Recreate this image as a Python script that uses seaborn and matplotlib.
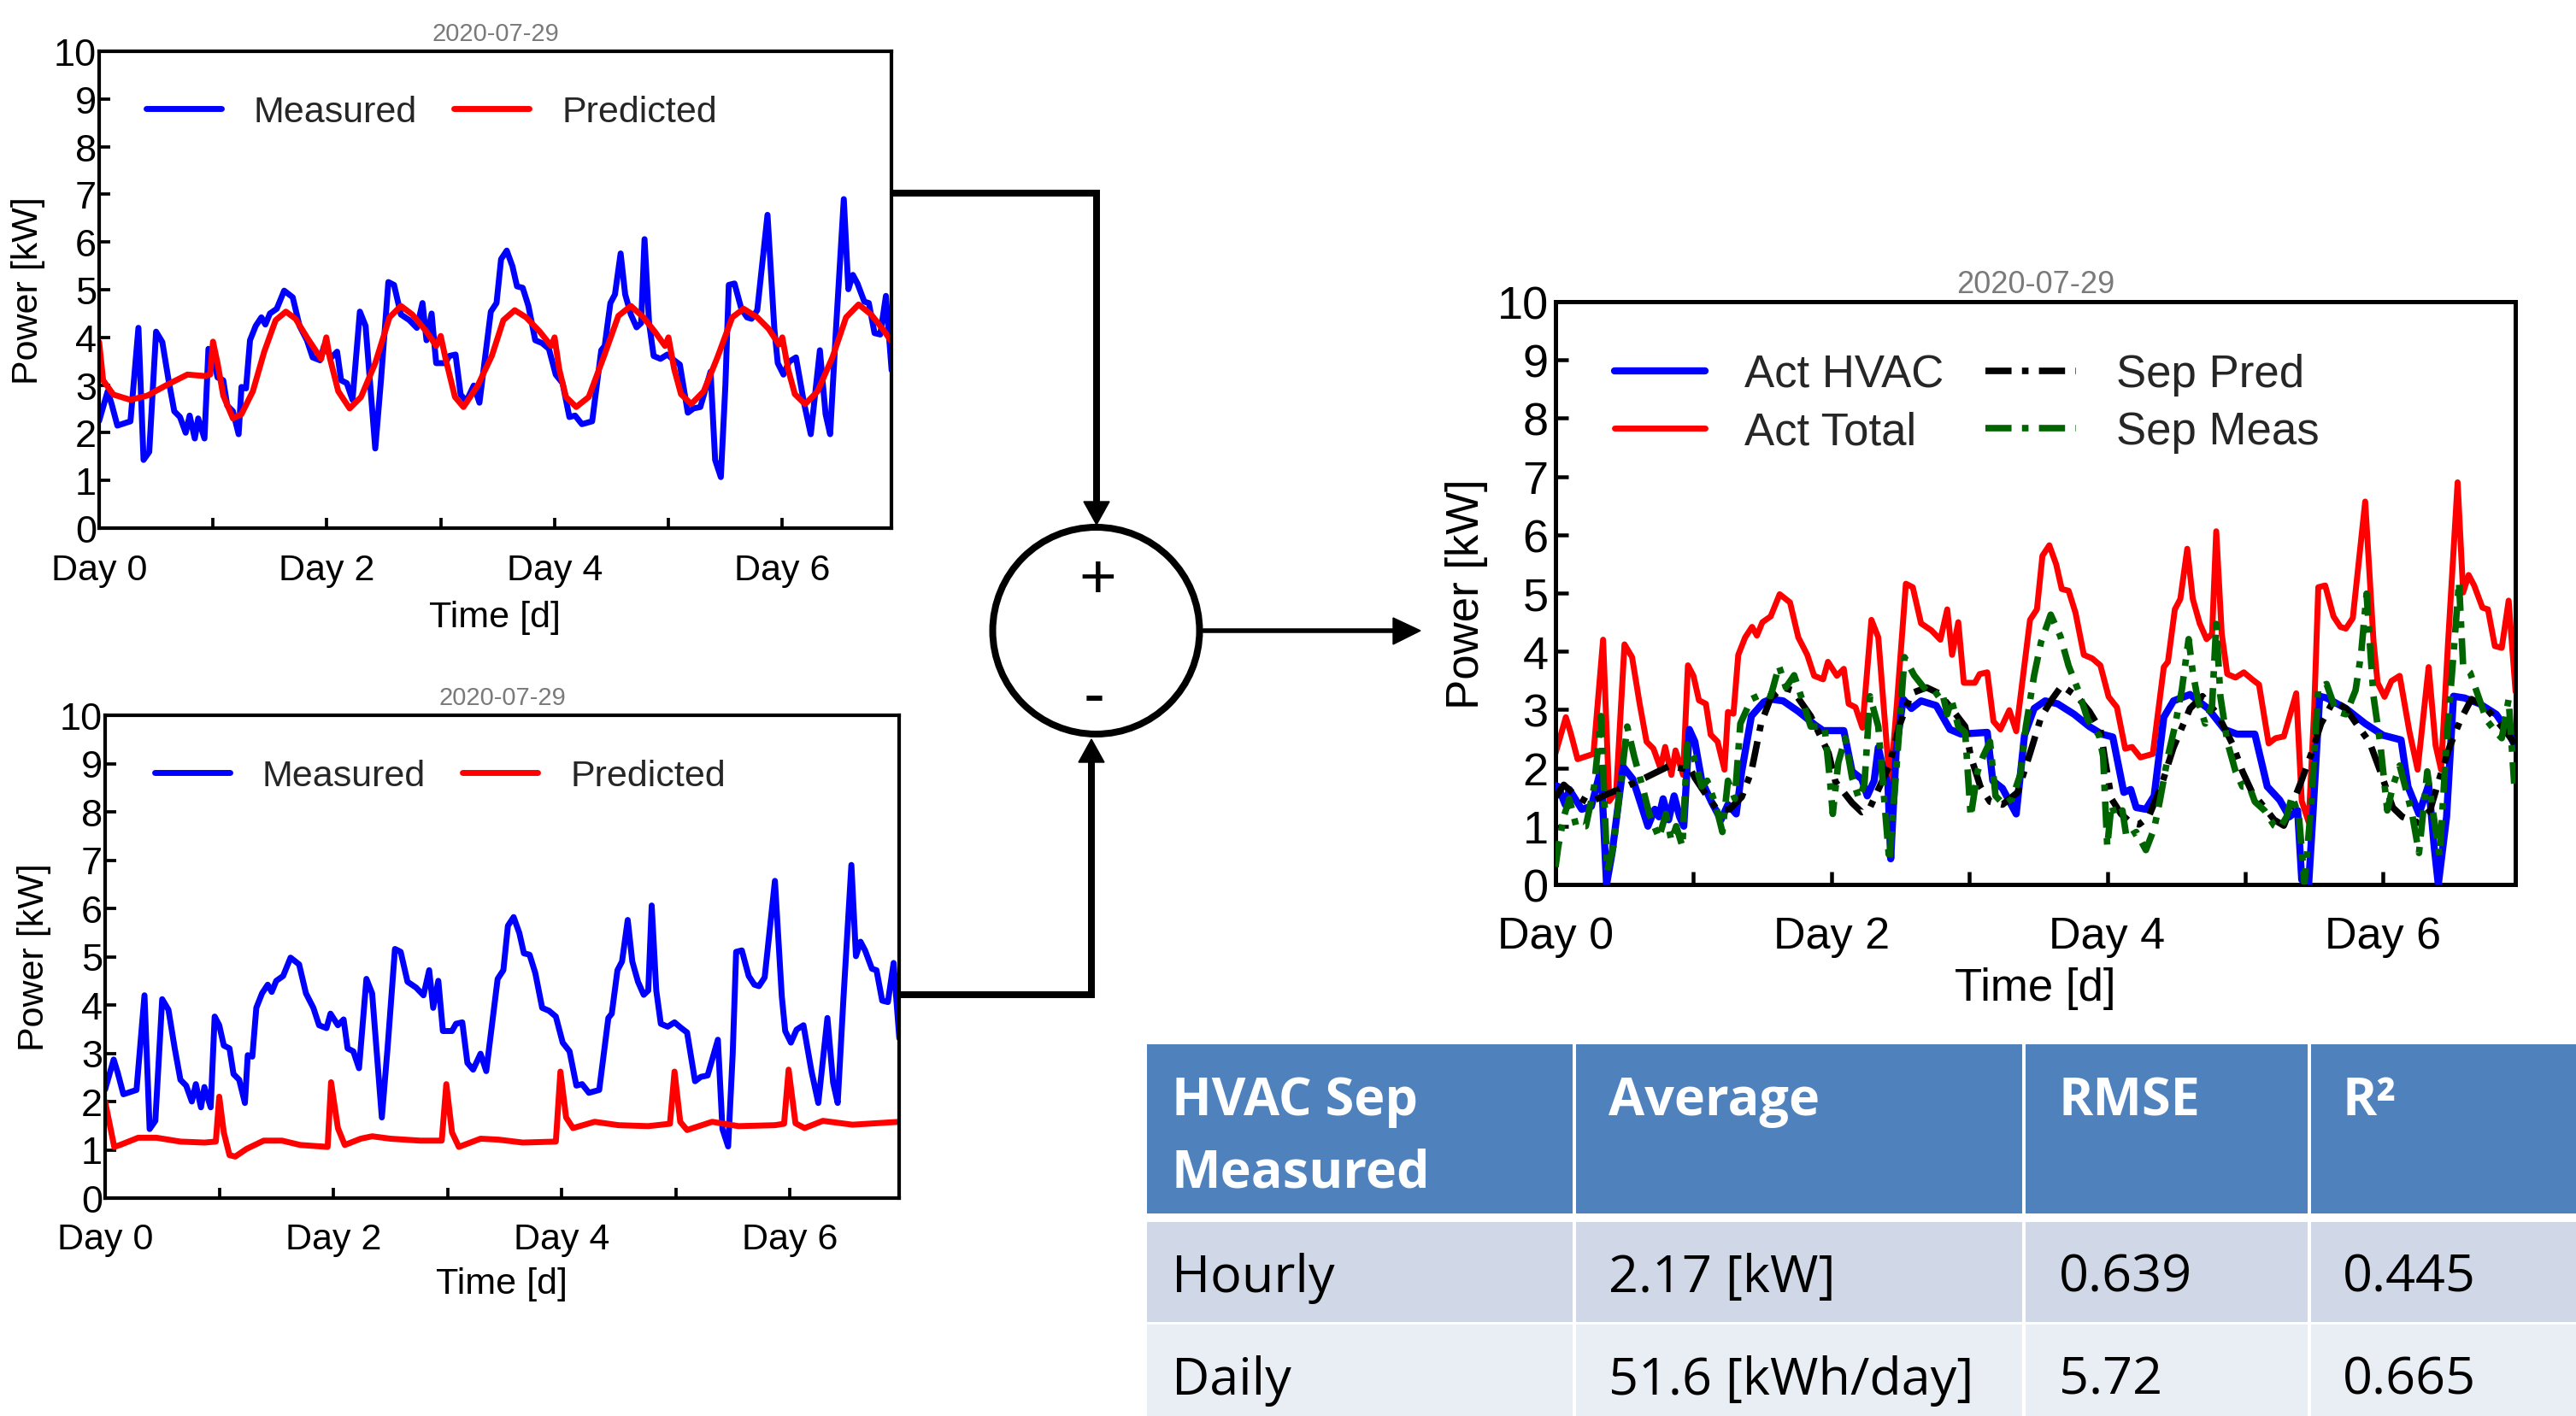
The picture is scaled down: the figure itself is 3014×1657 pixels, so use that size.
import numpy as np
import pandas as pd
import matplotlib
matplotlib.use("Agg")
import matplotlib.pyplot as plt
import seaborn as sns
from matplotlib.patches import Circle, Rectangle, Polygon

# ---------------- data ----------------
total_day = [0.0, 0.075, 0.11, 0.16, 0.225, 0.275, 0.345, 0.39, 0.44, 0.5,
             0.555, 0.61, 0.66, 0.71, 0.76, 0.795, 0.84, 0.87, 0.925, 0.96,
             1.0, 1.04, 1.09, 1.125, 1.175, 1.225, 1.25, 1.29, 1.325, 1.375,
             1.425, 1.46, 1.5, 1.56, 1.625, 1.7, 1.76, 1.825, 1.875, 1.94,
             1.975, 2.04, 2.09, 2.125, 2.175, 2.225, 2.29, 2.34, 2.425, 2.475,
             2.54, 2.59, 2.65, 2.725, 2.79, 2.84, 2.875, 2.92, 2.96, 3.04,
             3.075, 3.13, 3.175, 3.225, 3.29, 3.34, 3.44, 3.49, 3.53, 3.58,
             3.63, 3.67, 3.72, 3.77, 3.83, 3.89, 3.95, 4.01, 4.07, 4.13,
             4.18, 4.24, 4.33, 4.41, 4.44, 4.49, 4.53, 4.58, 4.62, 4.67,
             4.72, 4.76, 4.79, 4.83, 4.87, 4.93, 4.99, 5.05, 5.1, 5.17,
             5.22, 5.28, 5.37, 5.41, 5.46, 5.5, 5.53, 5.58, 5.64, 5.69,
             5.73, 5.78, 5.87, 5.93, 5.96, 6.01, 6.06, 6.12, 6.19, 6.25,
             6.33, 6.38, 6.42, 6.47, 6.54, 6.58, 6.62, 6.66, 6.72, 6.76,
             6.81, 6.86, 6.91, 6.96]
total_kw = [2.25, 2.87, 2.6, 2.15, 2.2, 2.24, 4.2, 1.43, 1.6, 4.12,
            3.9, 3.1, 2.45, 2.33, 2.0, 2.36, 1.88, 2.3, 1.88, 3.76,
            3.58, 3.16, 3.1, 2.57, 2.45, 1.97, 2.96, 2.93, 3.94, 4.24,
            4.42, 4.27, 4.5, 4.6, 4.98, 4.84, 4.24, 3.94, 3.58, 3.52,
            3.82, 3.58, 3.7, 3.1, 3.04, 2.69, 4.54, 4.24, 1.67, 3.1,
            5.16, 5.1, 4.48, 4.36, 4.2, 4.72, 3.94, 4.5, 3.46, 3.46,
            3.61, 3.64, 2.8, 2.66, 2.99, 2.63, 4.54, 4.72, 5.64, 5.82,
            5.49, 5.07, 5.04, 4.66, 3.94, 3.88, 3.76, 3.22, 3.04, 2.33,
            2.36, 2.18, 2.24, 3.73, 3.82, 4.72, 4.9, 5.76, 4.9, 4.48,
            4.21, 4.3, 6.06, 4.3, 3.61, 3.55, 3.64, 3.52, 3.43, 2.42,
            2.51, 2.54, 3.28, 1.43, 1.07, 2.99, 5.1, 5.13, 4.6, 4.42,
            4.39, 4.57, 6.57, 4.18, 3.46, 3.22, 3.49, 3.58, 2.63, 1.97,
            3.73, 2.39, 1.97, 4.12, 6.9, 5.01, 5.31, 5.13, 4.75, 4.72,
            4.09, 4.06, 4.87, 3.31]

pred_day = [0.0, 0.035, 0.125, 0.275, 0.425, 0.6, 0.775, 0.925, 0.975, 1.0,
            1.04, 1.09, 1.175, 1.25, 1.35, 1.45, 1.55, 1.64, 1.725, 1.825,
            1.95, 1.995, 2.025, 2.1, 2.2, 2.3, 2.425, 2.55, 2.65, 2.75,
            2.875, 2.96, 3.0, 3.04, 3.125, 3.2, 3.325, 3.45, 3.55, 3.65,
            3.75, 3.87, 3.97, 4.0, 4.04, 4.1, 4.19, 4.3, 4.43, 4.56,
            4.67, 4.78, 4.88, 4.97, 5.0, 5.05, 5.11, 5.2, 5.31, 5.43,
            5.56, 5.66, 5.78, 5.88, 5.97, 6.0, 6.05, 6.11, 6.2, 6.31,
            6.44, 6.56, 6.67, 6.78, 6.88, 6.96]
pred_kw = [3.9, 3.1, 2.8, 2.69, 2.78, 3.01, 3.22, 3.19, 3.22, 3.91,
           3.46, 2.78, 2.3, 2.39, 2.87, 3.7, 4.36, 4.54, 4.39, 4.0,
           3.55, 4.0, 3.58, 2.87, 2.51, 2.75, 3.46, 4.42, 4.66, 4.48,
           4.12, 3.82, 4.03, 3.58, 2.75, 2.54, 2.99, 3.62, 4.36, 4.57,
           4.42, 4.12, 3.82, 4.0, 3.34, 2.75, 2.54, 2.75, 3.58, 4.45,
           4.66, 4.42, 4.12, 3.82, 4.0, 3.34, 2.81, 2.6, 2.87, 3.58,
           4.42, 4.6, 4.42, 4.18, 3.85, 4.0, 3.34, 2.81, 2.6, 2.87,
           3.58, 4.42, 4.69, 4.48, 4.18, 3.91]

base_day = [0.0, 0.08, 0.13, 0.29, 0.45, 0.66, 0.87, 0.97, 1.0, 1.04,
            1.09, 1.14, 1.24, 1.39, 1.55, 1.71, 1.95, 1.98, 2.04, 2.1,
            2.24, 2.34, 2.5, 2.76, 2.95, 2.99, 3.04, 3.1, 3.29, 3.45,
            3.66, 3.95, 3.99, 4.04, 4.1, 4.29, 4.5, 4.76, 4.95, 4.99,
            5.04, 5.1, 5.32, 5.55, 5.87, 5.95, 5.99, 6.05, 6.13, 6.29,
            6.55, 6.96]
base_kw = [2.0, 1.06, 1.1, 1.25, 1.25, 1.17, 1.15, 1.17, 2.1, 1.36,
           0.89, 0.86, 1.02, 1.19, 1.19, 1.1, 1.06, 2.4, 1.45, 1.1,
           1.23, 1.28, 1.23, 1.19, 1.19, 2.36, 1.36, 1.06, 1.23, 1.21,
           1.15, 1.17, 2.62, 1.67, 1.45, 1.58, 1.51, 1.49, 1.54, 2.62,
           1.58, 1.41, 1.58, 1.49, 1.51, 1.54, 2.66, 1.55, 1.45, 1.6,
           1.52, 1.58]

hvac_day = [0.0, 0.02, 0.07, 0.1, 0.19, 0.26, 0.33, 0.37, 0.41, 0.49,
            0.56, 0.62, 0.67, 0.72, 0.75, 0.78, 0.82, 0.86, 0.9, 0.93,
            0.97, 1.01, 1.06, 1.13, 1.2, 1.25, 1.31, 1.35, 1.42, 1.51,
            1.56, 1.65, 1.76, 1.88, 1.94, 2.09, 2.15, 2.22, 2.26, 2.31,
            2.34, 2.38, 2.41, 2.43, 2.47, 2.52, 2.58, 2.65, 2.76, 2.86,
            2.94, 3.13, 3.17, 3.24, 3.34, 3.4, 3.47, 3.55, 3.64, 3.76,
            3.87, 3.96, 4.04, 4.12, 4.17, 4.21, 4.28, 4.34, 4.41, 4.48,
            4.6, 4.73, 4.85, 4.94, 5.07, 5.16, 5.25, 5.32, 5.38, 5.41,
            5.46, 5.49, 5.54, 5.59, 5.73, 5.87, 6.0, 6.13, 6.18, 6.26,
            6.33, 6.37, 6.4, 6.46, 6.51, 6.59, 6.7, 6.82, 6.91, 6.96]
hvac_kw = [1.7, 1.68, 1.37, 1.63, 1.29, 1.34, 1.99, 0.0, 0.54, 2.02,
           1.81, 1.37, 1.0, 1.29, 1.16, 1.47, 1.11, 1.52, 1.16, 1.0,
           2.66, 2.45, 1.78, 1.42, 1.11, 1.37, 1.21, 1.94, 2.89, 3.13,
           3.18, 3.15, 2.97, 2.74, 2.64, 2.64, 1.94, 1.81, 1.52, 1.78,
           2.35, 1.94, 1.73, 0.44, 2.3, 3.18, 3.02, 3.15, 3.07, 2.66,
           2.58, 2.61, 1.78, 1.65, 1.21, 2.56, 3.02, 3.15, 3.1, 2.92,
           2.71, 2.58, 2.53, 1.58, 1.63, 1.32, 1.29, 1.52, 2.87, 3.15,
           3.26, 3.02, 2.66, 2.58, 2.58, 1.68, 1.45, 1.16, 1.27, 0.08,
           0.0, 1.16, 3.23, 3.2, 3.02, 2.76, 2.56, 2.48, 1.68, 1.21,
           1.71, 0.65, 0.0, 1.16, 3.23, 3.2, 3.1, 2.92, 2.61, 2.35]

seppred_day = [0.0, 0.06, 0.15, 0.24, 0.375, 0.51, 0.65, 0.83, 0.92, 0.97,
               1.01, 1.08, 1.17, 1.26, 1.35, 1.42, 1.49, 1.56, 1.65, 1.72,
               1.85, 1.94, 1.98, 2.03, 2.15, 2.22, 2.28, 2.35, 2.42, 2.49,
               2.58, 2.69, 2.78, 2.87, 2.97, 3.01, 3.08, 3.15, 3.24, 3.35,
               3.44, 3.52, 3.6, 3.67, 3.78, 3.87, 3.95, 3.98, 4.03, 4.1,
               4.17, 4.23, 4.3, 4.39, 4.48, 4.6, 4.69, 4.8, 4.91, 4.98,
               5.05, 5.14, 5.21, 5.28, 5.4, 5.48, 5.55, 5.64, 5.73, 5.82,
               5.9, 5.98, 6.07, 6.14, 6.25, 6.34, 6.41, 6.48, 6.56, 6.64,
               6.73, 6.82, 6.91, 6.96]
seppred_kw = [1.5, 1.71, 1.52, 1.4, 1.55, 1.68, 1.83, 2.04, 1.99, 2.02,
              1.83, 1.58, 1.29, 1.29, 1.5, 1.94, 2.76, 3.2, 3.38, 3.33,
              2.89, 2.45, 2.25, 1.76, 1.4, 1.24, 1.32, 1.68, 2.04, 2.71,
              3.28, 3.38, 3.28, 3.02, 2.71, 2.2, 1.68, 1.42, 1.37, 1.58,
              2.25, 2.87, 3.18, 3.41, 3.23, 2.97, 2.66, 2.2, 1.47, 1.21,
              1.06, 1.03, 1.16, 1.68, 2.35, 3.02, 3.23, 2.92, 2.4, 1.94,
              1.58, 1.32, 1.11, 1.01, 1.73, 2.25, 2.76, 3.15, 3.02, 2.71,
              2.45, 1.94, 1.32, 1.16, 1.06, 1.27, 1.83, 2.35, 2.82, 3.18,
              3.07, 2.82, 2.56, 2.4]

sepmeas_day = [0.0, 0.02, 0.06, 0.1, 0.15, 0.22, 0.28, 0.33, 0.375, 0.42,
               0.52, 0.57, 0.63, 0.68, 0.75, 0.8, 0.84, 0.875, 0.92, 0.955,
               1.0, 1.06, 1.1, 1.16, 1.21, 1.25, 1.3, 1.34, 1.42, 1.51,
               1.56, 1.62, 1.67, 1.73, 1.78, 1.85, 1.95, 1.99, 2.01, 2.05,
               2.1, 2.15, 2.2, 2.24, 2.28, 2.34, 2.42, 2.47, 2.53, 2.6,
               2.67, 2.74, 2.8, 2.84, 2.87, 2.92, 2.97, 3.01, 3.06, 3.1,
               3.15, 3.19, 3.25, 3.31, 3.37, 3.41, 3.47, 3.52, 3.59, 3.66,
               3.72, 3.79, 3.86, 3.94, 3.97, 4.0, 4.03, 4.06, 4.11, 4.14,
               4.21, 4.28, 4.34, 4.38, 4.44, 4.49, 4.54, 4.59, 4.62, 4.66,
               4.71, 4.76, 4.79, 4.82, 4.87, 4.93, 4.98, 5.03, 5.07, 5.14,
               5.21, 5.25, 5.3, 5.34, 5.39, 5.43, 5.48, 5.53, 5.59, 5.66,
               5.73, 5.8, 5.84, 5.88, 5.9, 5.93, 5.98, 6.03, 6.07, 6.12,
               6.16, 6.21, 6.26, 6.32, 6.36, 6.41, 6.46, 6.51, 6.55, 6.58,
               6.63, 6.69, 6.75, 6.82, 6.86, 6.91, 6.95]
sepmeas_kw = [0.3, 0.65, 1.16, 1.47, 1.0, 1.0, 1.68, 2.89, 0.23, 0.65,
              2.71, 2.2, 1.68, 1.21, 0.8, 1.21, 0.75, 1.0, 0.65, 2.4,
              2.2, 1.68, 1.78, 1.37, 0.9, 1.78, 1.47, 2.76, 3.18, 3.28,
              3.23, 3.75, 3.38, 3.59, 3.23, 2.71, 2.71, 1.78, 1.21, 2.09,
              2.51, 1.83, 1.47, 1.73, 3.23, 2.71, 0.39, 1.94, 3.9, 3.59,
              3.38, 3.23, 3.33, 2.92, 3.18, 2.71, 2.61, 1.16, 1.94, 2.2,
              2.45, 1.52, 1.37, 1.47, 1.89, 2.71, 3.59, 4.16, 4.63, 4.26,
              3.75, 3.33, 2.82, 2.56, 2.2, 0.65, 1.37, 1.16, 1.27, 0.8,
              0.9, 0.59, 0.96, 1.42, 2.2, 2.71, 3.33, 4.21, 3.64, 3.13,
              2.76, 3.08, 4.47, 3.23, 2.45, 1.94, 1.68, 1.68, 1.42, 1.27,
              1.01, 0.96, 1.16, 1.52, 1.16, 0.03, 1.42, 3.38, 3.44, 2.97,
              2.92, 3.33, 3.95, 4.99, 4.26, 3.23, 2.4, 1.27, 1.68, 2.04,
              1.68, 1.21, 0.54, 1.94, 1.27, 0.49, 2.45, 3.95, 5.19, 3.75,
              3.64, 3.23, 2.82, 2.61, 2.51, 3.18, 1.73]

day_ticks = [0, 1, 2, 3, 4, 5, 6]
day_labels = ["Day 0", "", "Day 2", "", "Day 4", "", "Day 6"]
kw_ticks = list(range(11))
date_title = "2020-07-29"

table_header = ["HVAC Sep\nMeasured", "Average", "RMSE", "R²"]
table_rows = [["Hourly", "2.17 [kW]", "0.639", "0.445"],
              ["Daily", "51.6 [kWh/day]", "5.72", "0.665"]]

# ---------------- figure ----------------
sns.set_theme(style="white")
plt.rcParams['font.family'] = ['Liberation Sans', 'DejaVu Sans']

W, H = 3014, 1658
fig = plt.figure(figsize=(W / 100, H / 100), dpi=100)


def frac(x0, y0, x1, y1):
    return [x0 / W, 1 - y1 / H, (x1 - x0) / W, (y1 - y0) / H]


# overlay for diagram + table (pixel coordinates)
ov = fig.add_axes([0, 0, 1, 1])
ov.set_xlim(0, W)
ov.set_ylim(H, 0)
ov.axis('off')

ax1 = fig.add_axes(frac(116, 61, 1043, 619))
ax2 = fig.add_axes(frac(123, 838, 1052, 1403))
ax3 = fig.add_axes(frac(1820, 354, 2943, 1036))


def line(ax, t, v, **kw):
    n = min(len(t), len(v))
    df = pd.DataFrame({'day': t[:n], 'kw': v[:n]})
    sns.lineplot(data=df, x='day', y='kw', ax=ax, estimator=None, sort=False, **kw)
    return ax.lines[-1]


def style(ax, fs, tfs, title_fs, spine_w, xpad, ypad, xlabpad, ylab_x, title_pad, tick_len):
    ax.set_xlim(0, 167 / 24)
    ax.set_ylim(0, 10)
    ax.set_xticks(day_ticks)
    ax.set_xticklabels(day_labels)
    ax.set_yticks(kw_ticks)
    ax.tick_params(direction='in', length=tick_len, width=spine_w * 0.9, labelsize=tfs,
                   bottom=True, left=True, top=False, right=False, colors='black',
                   labelcolor='black')
    ax.tick_params(axis='x', pad=xpad)
    ax.tick_params(axis='y', pad=ypad, labelsize=tfs + 1.5)
    for s in ax.spines.values():
        s.set_linewidth(spine_w)
        s.set_color('black')
        s.set_visible(True)
    ax.grid(False)
    ax.set_facecolor('white')
    ax.set_xlabel('Time [d]', fontsize=fs, color='black', labelpad=xlabpad)
    ax.set_ylabel('Power [kW]', fontsize=fs, color='black')
    ax.yaxis.set_label_coords(ylab_x, 0.5)
    ax.set_title(date_title, fontsize=title_fs, color='#7a7a7a', pad=title_pad)


# --- top-left: measured vs predicted total
line(ax1, total_day, total_kw, color='#0000ff', lw=5, label='Measured')
line(ax1, pred_day, pred_kw, color='#ff0000', lw=5, label='Predicted')
style(ax1, 31, 31, 21, 3.0, 21, 2, 11, -0.068, 9, 9)
ax1.legend(loc='center left', bbox_to_anchor=(0.059, 0.872), ncol=2, frameon=False,
           fontsize=31, handlelength=2.05, handletextpad=0.88, columnspacing=1.0,
           borderpad=0, borderaxespad=0)

# --- bottom-left: measured total vs predicted non-HVAC
line(ax2, total_day, total_kw, color='#0000ff', lw=5, label='Measured')
line(ax2, base_day, base_kw, color='#ff0000', lw=5, label='Predicted')
style(ax2, 31, 31, 21, 3.0, 20, 2, 9, -0.068, 9, 9)
ax2.legend(loc='center left', bbox_to_anchor=(0.062, 0.875), ncol=2, frameon=False,
           fontsize=31, handlelength=2.05, handletextpad=0.88, columnspacing=1.0,
           borderpad=0, borderaxespad=0)

# --- right: separation result
dashdot = (0, (4, 1.6, 1, 1.6))
l_h = line(ax3, hvac_day, hvac_kw, color='#0000ff', lw=6, label='Act HVAC', zorder=3)
l_t = line(ax3, total_day, total_kw, color='#ff0000', lw=5, label='Act Total', zorder=2)
l_p = line(ax3, seppred_day, seppred_kw, color='black', lw=5.5, label='Sep Pred', zorder=4)
l_p.set_linestyle(dashdot)
l_m = line(ax3, sepmeas_day, sepmeas_kw, color='#006400', lw=5.5, label='Sep Meas', zorder=5)
l_m.set_linestyle(dashdot)
style(ax3, 38, 37.5, 26, 3.6, 26, 6, 8, -0.070, 8, 11)
ax3.legend(handles=[l_h, l_t, l_p, l_m], loc='center left', bbox_to_anchor=(0.0614, 0.826),
           ncol=2, frameon=False, fontsize=38, handlelength=2.0, handletextpad=0.89,
           columnspacing=0.92, labelspacing=0.32, borderpad=0, borderaxespad=0)

# ---------------- diagram ----------------
lw_px = 8
lw_pt = lw_px * 0.72
ov.plot([1043, 1283, 1283], [227, 227, 592], color='black', lw=lw_pt, solid_joinstyle='miter',
        solid_capstyle='projecting')
ov.add_patch(Polygon([(1268, 588), (1298, 588), (1283, 615)], closed=True, color='black'))
ov.plot([1052, 1277, 1277], [1165, 1165, 890], color='black', lw=lw_pt, solid_joinstyle='miter',
        solid_capstyle='projecting')
ov.add_patch(Polygon([(1262, 893), (1292, 893), (1277, 866)], closed=True, color='black'))
ov.plot([1408, 1632], [739, 739], color='black', lw=5.5 * 0.72)
ov.add_patch(Polygon([(1630, 724), (1630, 755), (1662, 739)], closed=True, color='black'))
ov.add_patch(Circle((1282.5, 739), 121, fill=False, lw=lw_pt, edgecolor='black'))
ov.text(1284, 680, '+', fontsize=54, ha='center', va='center', color='black')
ov.text(1280, 818, '-', fontsize=54, ha='center', va='center', color='black')

# ---------------- table ----------------
col_edges = [1340, 1842, 2368, 2702, 3016]
hdr_y = (1223, 1421)
row_y = [(1431, 1548), (1551, 1660)]
hdr_color = '#4f81bd'
row_colors = ['#d0d8e8', '#e9edf4']
gap = 2
for c in range(4):
    x0, x1 = col_edges[c] + gap, col_edges[c + 1] - gap
    ov.add_patch(Rectangle((x0, hdr_y[0]), x1 - x0, hdr_y[1] - hdr_y[0], color=hdr_color, lw=0))
    for r, (y0, y1) in enumerate(row_y):
        ov.add_patch(Rectangle((x0, y0), x1 - x0, y1 - y0, color=row_colors[r], lw=0))

text_x = [1371, 1882, 2409, 2741]
tfont = ['Open Sans', 'DejaVu Sans']
for c, txt in enumerate(table_header):
    for i, part in enumerate(txt.split('\n')):
        ov.text(text_x[c], 1305 + i * 84, part, fontsize=44, fontweight='bold', color='white',
                ha='left', va='baseline', family=tfont)
row_base = [1512, 1632]
for r, row in enumerate(table_rows):
    for c, txt in enumerate(row):
        ov.text(text_x[c], row_base[r], txt, fontsize=44, color='black',
                ha='left', va='baseline', family=tfont)

fig.savefig('out.png', dpi=100)
